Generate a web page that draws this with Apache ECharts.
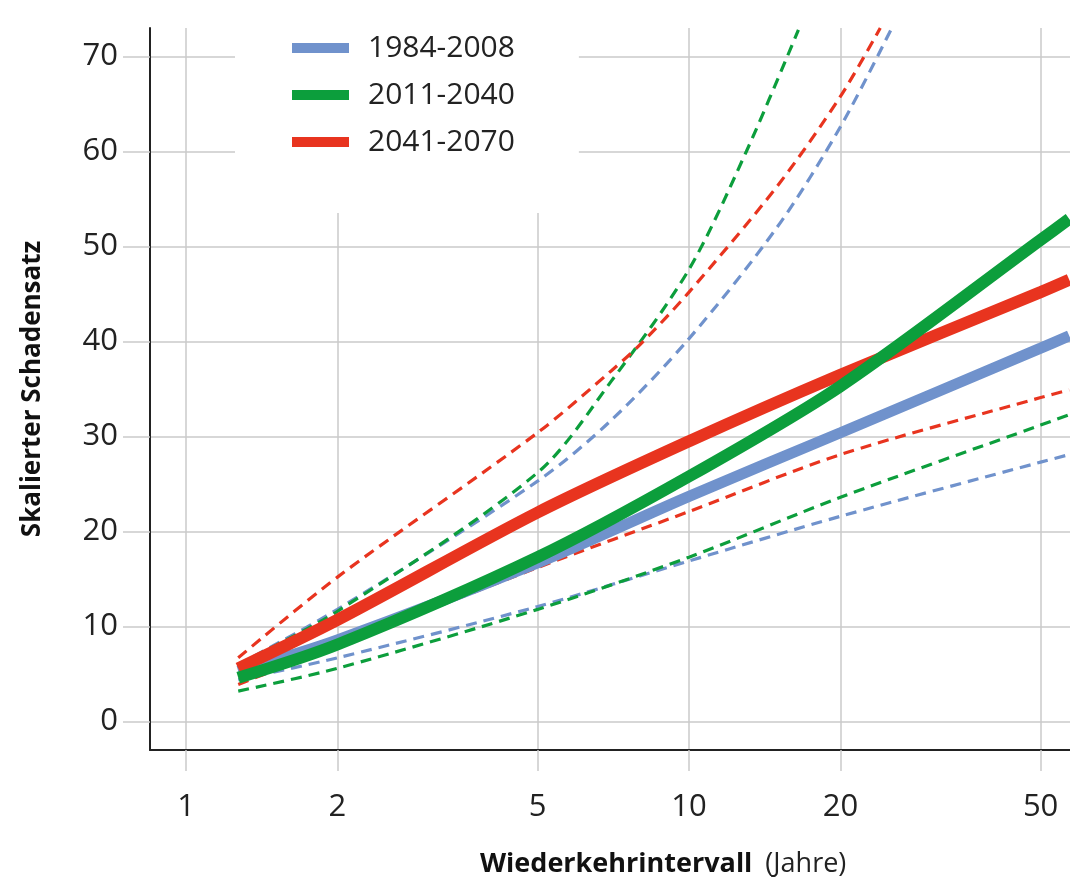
<!DOCTYPE html>
<html>
<head>
<meta charset="utf-8">
<script src="https://cdn.jsdelivr.net/npm/echarts@6/dist/echarts.min.js"></script>
<style>
  html, body { margin: 0; padding: 0; background: #fff; }
  #chart { width: 1070px; height: 889px; }
</style>
</head>
<body>
<div id="chart"></div>
<script>
// Wiederkehrintervall (Jahre) -> skalierter Schadensatz
const periods = ['1984-2008', '2011-2040', '2041-2070']
const colors = ['#7092cc', '#0c9e3c', '#e8341f']

const xTicks = [1, 2, 5, 10, 20, 50]
const yTicks = [0, 10, 20, 30, 40, 50, 60, 70]

// Mittelwert und untere Grenze: gleiche Stützstellen
const returnPeriods = [1.27, 2, 5, 10, 20, 50, 57]
const median1984 = [5.3, 8.6, 16.7, 23.7, 30.4, 39.3, 40.6]
const median2011 = [4.6, 8.1, 17.3, 25.8, 35.3, 50.7, 52.9]
const median2041 = [5.6, 10.7, 22.0, 29.5, 36.5, 45.2, 46.5]
const lower1984 = [4.4, 6.7, 12.1, 16.9, 21.6, 27.3, 28.1]
const lower2011 = [3.2, 5.6, 11.8, 17.3, 23.6, 31.2, 32.3]
const lower2041 = [3.9, 8.0, 16.2, 22.1, 28.1, 34.1, 34.9]

// obere Grenze (endet am oberen Rand)
const upperT1984 = [1.27, 2, 5, 7, 10, 15, 20, 25.3]
const upper1984 = [6.0, 11.8, 25.3, 31.7, 40.3, 52.1, 62.6, 73]
const upperT2011 = [1.27, 2, 5, 7, 10, 13, 16.5]
const upper2011 = [6.0, 11.6, 26.2, 35.8, 47.6, 60.0, 72.8]
const upperT2041 = [1.27, 2, 5, 7, 8, 10, 15, 20, 24]
const upper2041 = [6.7, 15.2, 30.4, 36.9, 39.7, 45.2, 56.4, 65.8, 73]

const font = '"Open Sans", "Noto Sans", sans-serif'
const gridColor = '#cacaca'

function pairs(xs, ys) {
  return xs.map((x, i) => [x, ys[i]])
}

function dashed(name, color, xs, ys) {
  return {
    name: name,
    type: 'line',
    showSymbol: false,
    smooth: 0.3,
    z: 2,
    color: color,
    lineStyle: { color: color, width: 3.2, type: [11, 7] },
    data: pairs(xs, ys)
  }
}

function solid(name, color, ys, width, z) {
  return {
    name: name,
    type: 'line',
    showSymbol: false,
    smooth: 0.3,
    z: z,
    color: color,
    itemStyle: { color: color },
    lineStyle: { color: color, width: width, cap: 'butt' },
    data: pairs(returnPeriods, ys)
  }
}

const chart = echarts.init(document.getElementById('chart'))
chart.setOption({
  animation: false,
  grid: { left: 150, right: 0, top: 28, bottom: 139 },
  legend: {
    data: periods,
    orient: 'vertical',
    left: 235,
    top: 0,
    z: 10,
    backgroundColor: '#fff',
    padding: [33, 64, 56, 57],
    icon: 'rect',
    itemWidth: 57,
    itemHeight: 10,
    itemGap: 17,
    selectedMode: false,
    textStyle: {
      fontFamily: font,
      fontSize: 30,
      lineHeight: 30,
      color: '#222',
      padding: [0, 0, 0, 14]
    }
  },
  xAxis: {
    type: 'log',
    logBase: 10,
    min: 0.848,
    max: 57.2,
    axisLine: { onZero: false, lineStyle: { color: '#222', width: 2 } },
    axisTick: { customValues: xTicks, length: 21, lineStyle: { color: gridColor, width: 1.5 } },
    axisLabel: {
      customValues: xTicks,
      margin: 42,
      fontFamily: font,
      fontSize: 31,
      color: '#222'
    },
    splitLine: { show: true, lineStyle: { color: gridColor, width: 1.5 } }
  },
  yAxis: {
    type: 'value',
    min: -3,
    max: 73,
    name: 'Skalierter Schadensatz',
    nameLocation: 'middle',
    nameGap: 104,
    nameTextStyle: { fontFamily: font, fontSize: 26, fontWeight: 'bold', color: '#111' },
    axisLine: { show: true, lineStyle: { color: '#222', width: 2 } },
    axisTick: { show: true, customValues: yTicks, length: 27, lineStyle: { color: gridColor, width: 1.5 } },
    axisLabel: {
      customValues: yTicks,
      margin: 32,
      fontFamily: font,
      fontSize: 31,
      color: '#222'
    },
    splitLine: { show: true, lineStyle: { color: gridColor, width: 1.5 } }
  },
  graphic: [{
    type: 'text',
    left: 480,
    top: 851,
    style: {
      text: '{b|Wiederkehrintervall}{r| (Jahre)}',
      rich: {
        b: { fontFamily: font, fontSize: 27, fontWeight: 'bold', fill: '#111' },
        r: { fontFamily: font, fontSize: 27, fill: '#222', padding: [0, 0, 0, 6] }
      }
    }
  }],
  series: [
    dashed('1984-2008 oben', colors[0], upperT1984, upper1984),
    dashed('2011-2040 oben', colors[1], upperT2011, upper2011),
    dashed('2041-2070 oben', colors[2], upperT2041, upper2041),
    dashed('1984-2008 unten', colors[0], returnPeriods, lower1984),
    dashed('2011-2040 unten', colors[1], returnPeriods, lower2011),
    dashed('2041-2070 unten', colors[2], returnPeriods, lower2041),
    solid(periods[0], colors[0], median1984, 11, 3),
    solid(periods[2], colors[2], median2041, 12, 4),
    solid(periods[1], colors[1], median2011, 12, 5)
  ]
})
</script>
</body>
</html>
